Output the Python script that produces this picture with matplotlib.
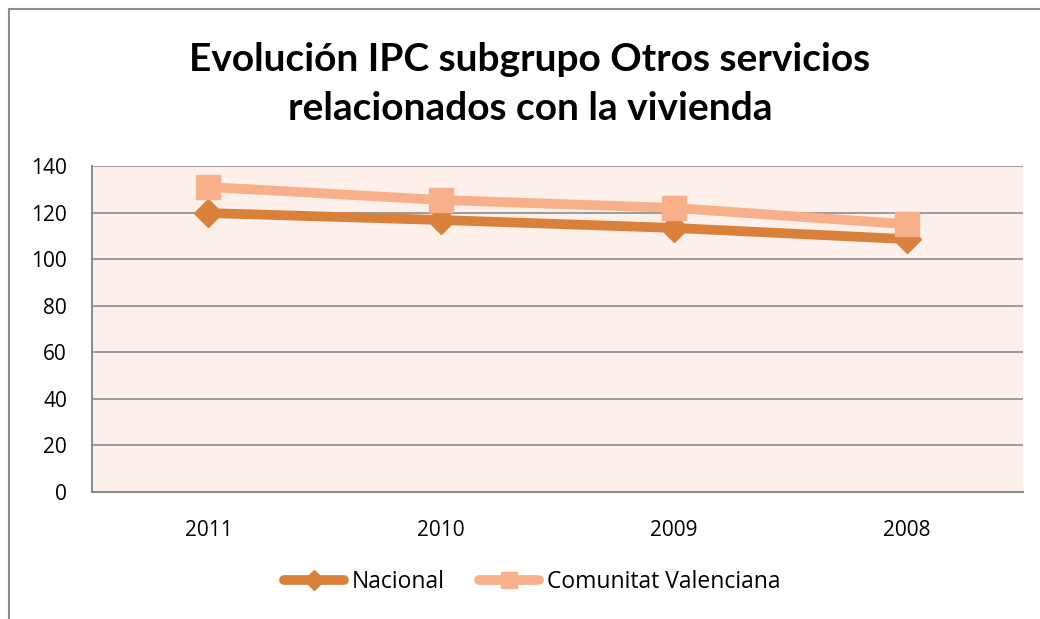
import matplotlib
matplotlib.use("Agg")
import matplotlib.pyplot as plt
from matplotlib.patches import Rectangle

years = ["2011", "2010", "2009", "2008"]
nacional = [119.8, 116.8, 113.4, 108.6]
comunitat = [131.0, 125.4, 122.0, 115.0]
yticks = [0, 20, 40, 60, 80, 100, 120, 140]

C_NAC = "#D9803A"
C_CV = "#F7B08A"
PANEL = "#FDEFEA"
GRID = "#8C8C8C"

plt.rcParams["font.family"] = ["Open Sans", "DejaVu Sans"]

W, H = 1040, 619
fig = plt.figure(figsize=(W / 100, H / 100), dpi=100)
fig.patch.set_facecolor("white")

# outer chart frame (only left and top edges are visible in the crop)
fig.patches.append(Rectangle((9 / W, -0.1), 1.2, 1.1 - 9 / H, transform=fig.transFigure,
                             fill=False, edgecolor="#8C8C8C", lw=1.5, zorder=0))

ax = fig.add_axes([92 / W, 1 - 492 / H, (1023 - 92) / W, (492 - 166) / H])
ax.set_facecolor(PANEL)
x = range(len(years))
ax.plot(x, nacional, color=C_NAC, lw=7, marker="D", ms=14, mec=C_NAC, label="Nacional",
        solid_capstyle="round", zorder=3)
ax.plot(x, comunitat, color=C_CV, lw=7, marker="s", ms=17, mec=C_CV, label="Comunitat Valenciana",
        solid_capstyle="round", zorder=4)

ax.set_xlim(-0.5, len(years) - 0.5)
ax.set_ylim(0, 140)
ax.set_yticks(yticks)
ax.set_xticks(list(x))
ax.set_xticklabels(years)
ax.yaxis.grid(True, color=GRID, lw=1.2)
ax.set_axisbelow(True)
ax.tick_params(length=0, labelsize=15, colors="black")
ax.tick_params(axis="y", pad=18)
ax.tick_params(axis="x", pad=20)
for s in ["top", "right"]:
    ax.spines[s].set_visible(False)
for s in ["left", "bottom"]:
    ax.spines[s].set_color(GRID)
    ax.spines[s].set_linewidth(1.5)

fig.text(530 / W, 1 - 84 / H, "Evolución IPC subgrupo Otros servicios\nrelacionados con la vivienda",
         ha="center", va="center", fontsize=28, fontweight="bold", linespacing=1.5,
         family=["Lato", "DejaVu Sans"])

leg = fig.legend(loc="center", bbox_to_anchor=(532 / W, 1 - 582 / H), ncol=2, frameon=False,
                 fontsize=16.5, handlelength=2.6, columnspacing=1.5, handletextpad=0.35,
                 markerscale=0.7)

fig.savefig("out.png", dpi=100, facecolor="white")
